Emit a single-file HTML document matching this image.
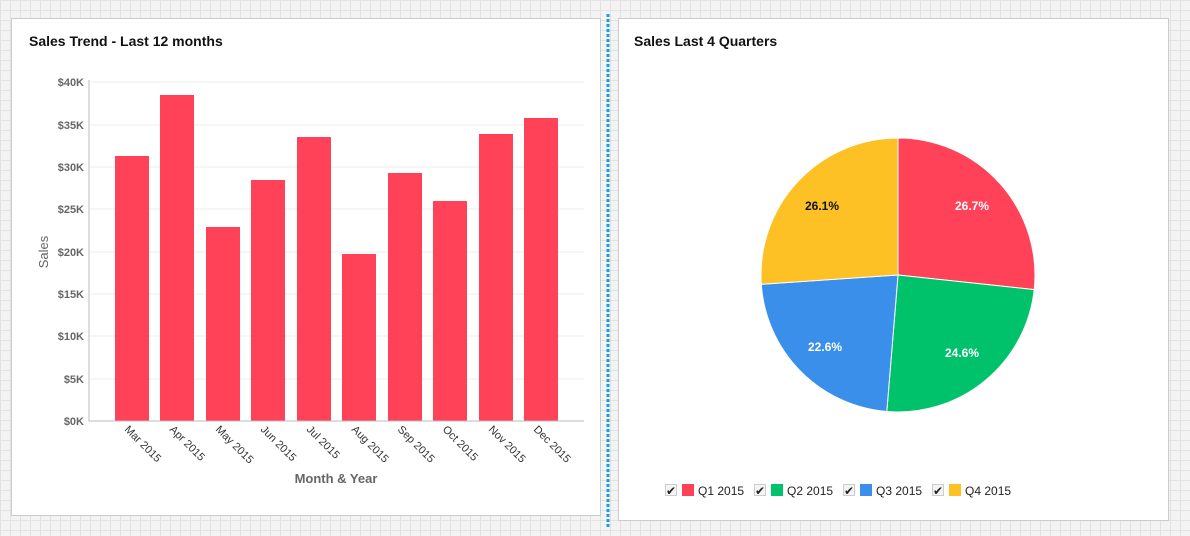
<!DOCTYPE html>
<html><head><style>
body{margin:0;width:1190px;height:536px;overflow:hidden;background:#f3f3f3;
background-image:linear-gradient(#e2e2e2 1px,transparent 1px),linear-gradient(90deg,#e2e2e2 1px,transparent 1px);background-size:10px 10px;font-family:"Liberation Sans",sans-serif}
</style></head><body>
<svg width="1190" height="536" style="position:absolute;left:0;top:0" font-family="Liberation Sans, sans-serif">
<rect x="11.5" y="18.5" width="589" height="497" fill="#fff" stroke="#ccc"/>
<rect x="618.5" y="18.5" width="550" height="502" fill="#fff" stroke="#ccc"/>
<line x1="608" y1="14" x2="608" y2="528" stroke="#1a9be8" stroke-width="3" stroke-dasharray="3,2"/>
<text x="29" y="46" font-size="14" font-weight="bold" fill="#111">Sales Trend - Last 12 months</text>
<text x="634" y="46" font-size="14" font-weight="bold" fill="#111">Sales Last 4 Quarters</text>
<g stroke="#ececec">
<line x1="89" y1="82" x2="584" y2="82"/><line x1="89" y1="125" x2="584" y2="125"/><line x1="89" y1="167" x2="584" y2="167"/><line x1="89" y1="209" x2="584" y2="209"/><line x1="89" y1="252" x2="584" y2="252"/><line x1="89" y1="294" x2="584" y2="294"/><line x1="89" y1="336" x2="584" y2="336"/><line x1="89" y1="379" x2="584" y2="379"/>
</g>
<g font-size="11" font-weight="bold" fill="#666" text-anchor="end">
<text x="84" y="86">$40K</text><text x="84" y="129">$35K</text><text x="84" y="171">$30K</text><text x="84" y="213">$25K</text><text x="84" y="256">$20K</text><text x="84" y="298">$15K</text><text x="84" y="340">$10K</text><text x="84" y="383">$5K</text><text x="84" y="425">$0K</text>
</g>
<text transform="translate(48,252) rotate(-90)" font-size="13" fill="#666" text-anchor="middle">Sales</text>
<g fill="#ff4257">
<rect x="115" y="156" width="34" height="265"/><rect x="160" y="95" width="34" height="326"/><rect x="206" y="227" width="34" height="194"/><rect x="251" y="180" width="34" height="241"/><rect x="297" y="137" width="34" height="284"/><rect x="342" y="254" width="34" height="167"/><rect x="388" y="173" width="34" height="248"/><rect x="433" y="201" width="34" height="220"/><rect x="479" y="134" width="34" height="287"/><rect x="524" y="118" width="34" height="303"/>
</g>
<line x1="89" y1="80" x2="89" y2="421" stroke="#bbb"/>
<line x1="89" y1="421" x2="584" y2="421" stroke="#bbb"/>
<g font-size="11" fill="#333">
<text transform="translate(124,430) rotate(45)">Mar 2015</text>
<text transform="translate(169,430) rotate(45)">Apr 2015</text>
<text transform="translate(215,430) rotate(45)">May 2015</text>
<text transform="translate(260,430) rotate(45)">Jun 2015</text>
<text transform="translate(306,430) rotate(45)">Jul 2015</text>
<text transform="translate(351,430) rotate(45)">Aug 2015</text>
<text transform="translate(397,430) rotate(45)">Sep 2015</text>
<text transform="translate(442,430) rotate(45)">Oct 2015</text>
<text transform="translate(488,430) rotate(45)">Nov 2015</text>
<text transform="translate(533,430) rotate(45)">Dec 2015</text>
</g>
<text x="336" y="483" font-size="13" font-weight="bold" fill="#666" text-anchor="middle">Month &amp; Year</text>
<g stroke="#fff" stroke-width="1">
<path d="M898,275 L898,138 A137,137 0 0 1 1034.2,289.6 Z" fill="#ff4257"/>
<path d="M898,275 L1034.2,289.6 A137,137 0 0 1 886.8,411.5 Z" fill="#00c26a"/>
<path d="M898,275 L886.8,411.5 A137,137 0 0 1 761.3,284.3 Z" fill="#3a8fea"/>
<path d="M898,275 L761.3,284.3 A137,137 0 0 1 898,138 Z" fill="#fec125"/>
</g>
<g font-size="12" font-weight="bold" text-anchor="middle">
<text x="972" y="210" fill="#fff">26.7%</text>
<text x="962" y="357" fill="#fff">24.6%</text>
<text x="825" y="351" fill="#fff">22.6%</text>
<text x="822" y="210" fill="#111">26.1%</text>
</g>
<g font-size="12" fill="#222">
<rect x="665.5" y="484.5" width="11" height="11" fill="#f4f4f4" stroke="#ccc"/><text x="666" y="495" font-size="12">✔</text>
<rect x="682" y="484" width="12" height="12" fill="#ff4257"/><text x="698" y="495">Q1 2015</text>
<rect x="754.5" y="484.5" width="11" height="11" fill="#f4f4f4" stroke="#ccc"/><text x="755" y="495">✔</text>
<rect x="771" y="484" width="12" height="12" fill="#00c26a"/><text x="787" y="495">Q2 2015</text>
<rect x="843.5" y="484.5" width="11" height="11" fill="#f4f4f4" stroke="#ccc"/><text x="844" y="495">✔</text>
<rect x="860" y="484" width="12" height="12" fill="#3a8fea"/><text x="876" y="495">Q3 2015</text>
<rect x="932.5" y="484.5" width="11" height="11" fill="#f4f4f4" stroke="#ccc"/><text x="933" y="495">✔</text>
<rect x="949" y="484" width="12" height="12" fill="#fec125"/><text x="965" y="495">Q4 2015</text>
</g>
</svg>
</body></html>
